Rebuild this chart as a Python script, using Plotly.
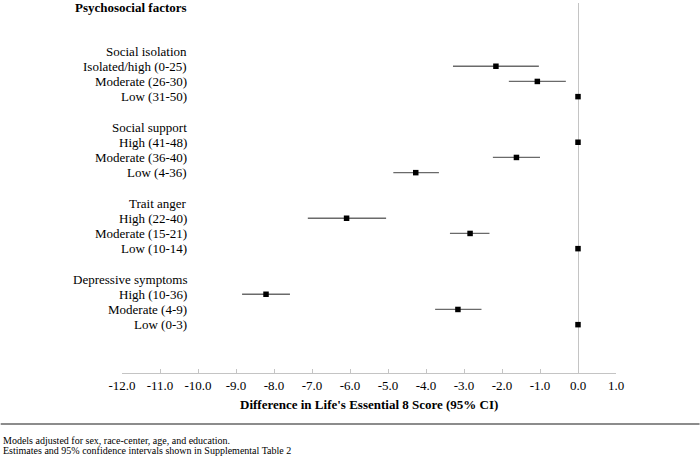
import plotly.graph_objects as go

# Forest plot data: difference in LE8 score (95% CI) by psychosocial factor
header = "Psychosocial factors"
groups = ["Social isolation", "Social support", "Trait anger", "Depressive symptoms"]
levels = [
    ["Isolated/high (0-25)", "Moderate (26-30)", "Low (31-50)"],
    ["High (41-48)", "Moderate (36-40)", "Low (4-36)"],
    ["High (22-40)", "Moderate (15-21)", "Low (10-14)"],
    ["High (10-36)", "Moderate (4-9)", "Low (0-3)"],
]
estimates = [
    [-2.16, -1.07, 0.0],
    [0.0, -1.62, -4.27],
    [-6.09, -2.84, 0.0],
    [-8.21, -3.16, 0.0],
]
ci_lower = [
    [-3.29, -1.82, 0.0],
    [0.0, -2.24, -4.86],
    [-7.11, -3.37, 0.0],
    [-8.84, -3.76, 0.0],
]
ci_upper = [
    [-1.03, -0.32, 0.0],
    [0.0, -1.00, -3.66],
    [-5.05, -2.33, 0.0],
    [-7.58, -2.54, 0.0],
]
x_ticks = [-12, -11, -10, -9, -8, -7, -6, -5, -4, -3, -2, -1, 0, 1]
footnotes = [
    "Models adjusted for sex, race-center, age, and education.",
    "Estimates and 95% confidence intervals shown in Supplemental Table 2",
]

# Build row layout: header, two blank rows, then group label + levels, blank between groups
rows = [(header, True), ("", False), ("", False)]
pts_y, pts_x, err_plus, err_minus = [], [], [], []
for gi, g in enumerate(groups):
    rows.append((g, False))
    for li, lv in enumerate(levels[gi]):
        rows.append((lv, False))
        pts_y.append(len(rows) - 1)
        est = estimates[gi][li]
        pts_x.append(est)
        err_plus.append(ci_upper[gi][li] - est)
        err_minus.append(est - ci_lower[gi][li])
    if gi < len(groups) - 1:
        rows.append(("", False))

FONT = "Liberation Serif, Times New Roman, serif"
W, H = 700, 460
ML, MR, MT, MB = 121.5, 83.7, 3, 87
plot_w = W - ML - MR
plot_h = H - MT - MB


def py(pixel_y):
    # figure pixel row -> paper coordinate
    return (MT + plot_h - pixel_y) / plot_h


fig = go.Figure()
fig.add_trace(go.Scatter(
    x=pts_x,
    y=pts_y,
    mode="markers",
    marker=dict(symbol="square", size=5.5, color="black"),
    error_x=dict(
        type="data",
        symmetric=False,
        array=err_plus,
        arrayminus=err_minus,
        color="#6a6a6a",
        thickness=1.3,
        width=0,
    ),
    showlegend=False,
    hoverinfo="x",
))

# Row labels, right-aligned left of the data
label_x = -10.23
annotations = []
for i, (txt, bold) in enumerate(rows):
    if not txt:
        continue
    annotations.append(dict(
        x=label_x, y=i, xref="x", yref="y",
        text=f"<b>{txt}</b>" if bold else txt,
        showarrow=False, xanchor="right", yanchor="middle",
        yshift=-2 if bold else 0,
        font=dict(family=FONT, size=13, color="black"),
    ))

# Footnotes at the very left of the figure
for k, note in enumerate(footnotes):
    annotations.append(dict(
        x=-ML / plot_w, y=py(440 + k * 10.5), xref="paper", yref="paper",
        text=note, showarrow=False, xanchor="left", yanchor="middle",
        font=dict(family=FONT, size=10, color="black"),
    ))

# Axis title
annotations.append(dict(
    x=0.5, y=py(404), xref="paper", yref="paper",
    text="<b>Difference in Life's Essential 8 Score (95% CI)</b>",
    showarrow=False, xanchor="center", yanchor="middle",
    font=dict(family=FONT, size=13, color="black"),
))

fig.update_layout(
    width=W,
    height=H,
    margin=dict(l=ML, r=MR, t=MT, b=MB),
    plot_bgcolor="white",
    paper_bgcolor="white",
    font=dict(family=FONT, size=13, color="black"),
    annotations=annotations,
    shapes=[dict(
        type="line", xref="paper", yref="paper",
        x0=-ML / plot_w, x1=(W - ML) / plot_w,
        y0=py(424), y1=py(424),
        line=dict(color="#8c8c8c", width=2),
    )],
)
fig.update_xaxes(
    range=[-12, 1],
    tickvals=x_ticks,
    ticktext=[f"{v:.1f}" for v in x_ticks],
    showgrid=False,
    zeroline=True,
    zerolinecolor="#c4c4c4",
    zerolinewidth=1,
    showline=True,
    linecolor="#c4c4c4",
    linewidth=1,
    ticks="inside",
    ticklen=4,
    tickcolor="#c4c4c4",
    tickfont=dict(family=FONT, size=13, color="black"),
)
fig.update_yaxes(
    range=[24.18, -0.16],
    visible=False,
    showgrid=False,
    zeroline=False,
)

# drop the default page margin so the figure sits at the window's corner
fig.write_html(
    "out.html",
    config={"displayModeBar": False},
    post_script="document.body.style.margin='0';",
)
